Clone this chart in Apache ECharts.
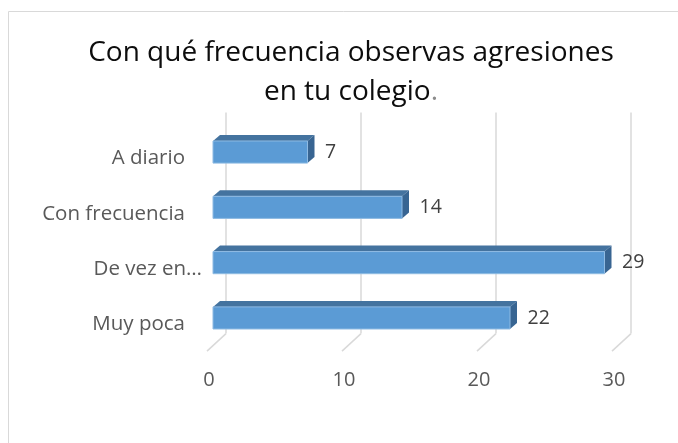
<!DOCTYPE html>
<html>
<head>
<meta charset="utf-8">
<script src="https://cdn.jsdelivr.net/npm/echarts@6/dist/echarts.min.js"></script>
<style>
  html, body { margin: 0; padding: 0; background: #fff; }
  #chart { width: 678px; height: 443px; }
</style>
</head>
<body>
<div id="chart"></div>
<script>
// chart data
const categories = ["A diario", "Con frecuencia", "De vez en…", "Muy poca"];
const values = [7, 14, 29, 22];
const xTicks = [0, 10, 20, 30];

const FONT = "Open Sans";
// 3d look: bar depth and wall offsets (px)
const BAR_DX = 7, BAR_DY = -6;
const BACK_DX = 13, BACK_DY = -12;
const FLOOR_DX = -6, FLOOR_DY = 5.5;

const chart = echarts.init(document.getElementById("chart"));

function renderBar(params, api) {
  const v = api.value(0);
  const c = api.value(1);
  const s = api.coord([0, c]);
  const e = api.coord([v, c]);
  const h = api.size([0, 1])[1] * 0.4;
  const yt = s[1] - h / 2;
  const yb = s[1] + h / 2;
  return {
    type: "group",
    children: [
      {
        type: "polygon",
        shape: { points: [[s[0], yt], [e[0], yt], [e[0] + BAR_DX, yt + BAR_DY], [s[0] + BAR_DX, yt + BAR_DY]] },
        style: { fill: "#44739f" }
      },
      {
        type: "polygon",
        shape: { points: [[e[0], yt], [e[0] + BAR_DX, yt + BAR_DY], [e[0] + BAR_DX, yb + BAR_DY], [e[0], yb]] },
        style: { fill: "#386592" }
      },
      {
        type: "rect",
        shape: { x: s[0], y: yt, width: e[0] - s[0], height: h },
        style: { fill: "#5b9bd5", stroke: "#8fbbe3", lineWidth: 1 }
      },
      {
        type: "text",
        x: e[0] + 17.5,
        y: e[1],
        style: {
          text: String(v),
          fontFamily: FONT,
          fontSize: 19.5,
          fill: "#404040",
          align: "left",
          verticalAlign: "middle"
        }
      }
    ]
  };
}

function renderFloor(params, api) {
  const p = api.coord([api.value(0), 0]);
  const bottom = params.coordSys.y + params.coordSys.height;
  return {
    type: "line",
    shape: { x1: p[0] + FLOOR_DX, y1: bottom + FLOOR_DY, x2: p[0] + BACK_DX, y2: bottom + BACK_DY },
    style: { stroke: "#d9d9d9", lineWidth: 1.5 }
  };
}

chart.setOption({
  animation: false,
  title: {
    text: "{a|Con qué frecuencia observas agresiones}\n{a|en tu colegio}{p|.}",
    left: 351,
    textAlign: "center",
    top: 33,
    padding: 0,
    textStyle: {
      rich: {
        a: { fontFamily: FONT, fontSize: 28, fontWeight: "normal", color: "#0d0d0d", lineHeight: 39.5 },
        p: { fontFamily: FONT, fontSize: 28, fontWeight: "normal", color: "#8c8c8c", lineHeight: 39.5 }
      }
    }
  },
  graphic: [
    {
      type: "rect",
      shape: { x: 8.5, y: 11.5, width: 700, height: 500 },
      style: { fill: null, stroke: "#d9d9d9", lineWidth: 1 },
      silent: true
    }
  ],
  grid: [
    { left: 213, top: 124.4, width: 405, height: 221.2 },
    { left: 213 + BACK_DX, top: 124.4 + BACK_DY, width: 405, height: 221.2 }
  ],
  xAxis: [
    {
      gridIndex: 0,
      type: "value",
      min: 0,
      max: 30,
      interval: 10,
      axisLine: { show: false },
      axisTick: { show: false },
      splitLine: { show: false },
      axisLabel: {
        margin: 25,
        fontFamily: FONT,
        fontSize: 20,
        color: "#595959",
        padding: [0, 8, 0, 0]
      }
    },
    {
      gridIndex: 1,
      type: "value",
      min: 0,
      max: 30,
      interval: 10,
      axisLine: { show: false },
      axisTick: { show: false },
      axisLabel: { show: false },
      splitLine: { show: true, lineStyle: { color: "#d9d9d9", width: 1.5 } }
    }
  ],
  yAxis: [
    {
      gridIndex: 0,
      type: "category",
      data: categories,
      inverse: true,
      axisLine: { show: false },
      axisTick: { show: false },
      axisLabel: {
        margin: 11,
        formatter: function (value) {
          return value === "De vez en…" ? "{e|" + value + "}" : "{n|" + value + "}";
        },
        rich: {
          n: { fontFamily: FONT, fontSize: 20.5, color: "#595959", padding: [13, 17, 0, 0] },
          e: { fontFamily: FONT, fontSize: 20.5, color: "#595959", padding: [13, 0, 0, 0] }
        }
      }
    },
    {
      gridIndex: 1,
      type: "category",
      data: categories,
      inverse: true,
      show: false
    }
  ],
  series: [
    {
      type: "custom",
      xAxisIndex: 0,
      yAxisIndex: 0,
      renderItem: renderFloor,
      data: xTicks.map(function (t) { return [t]; }),
      silent: true,
      z: 1
    },
    {
      type: "custom",
      xAxisIndex: 0,
      yAxisIndex: 0,
      renderItem: renderBar,
      encode: { x: 0, y: 1 },
      data: values.map(function (v, i) { return [v, i]; }),
      z: 3
    }
  ]
});
</script>
</body>
</html>
